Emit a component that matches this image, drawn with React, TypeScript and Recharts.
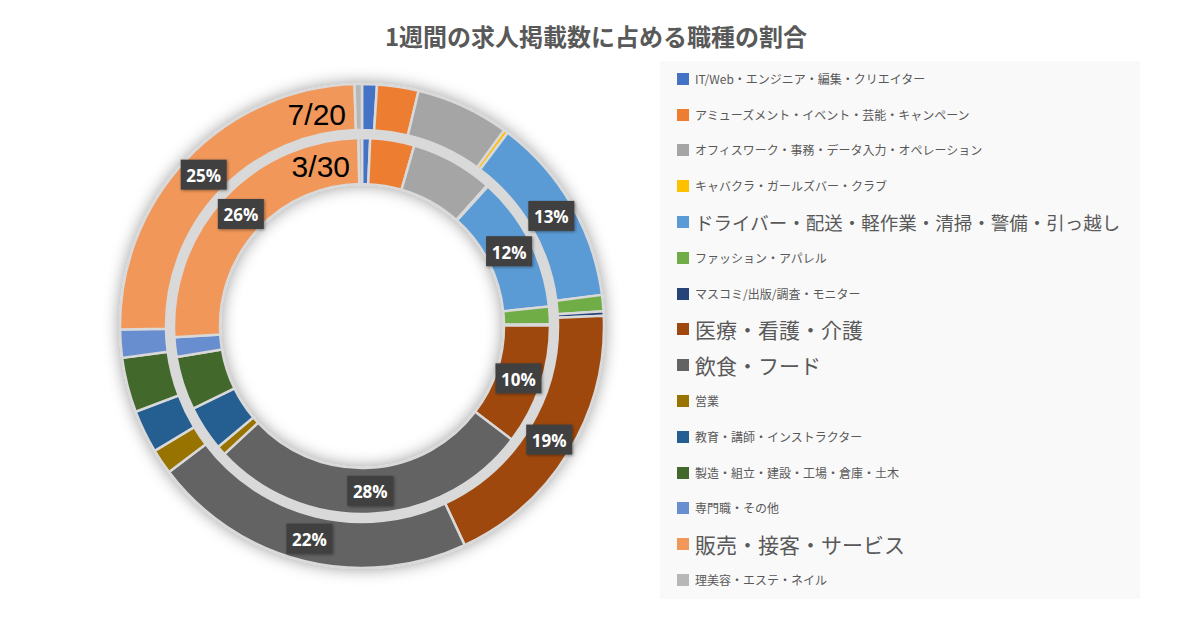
import { PieChart, Pie, Cell, Legend } from 'recharts';

const categories = [
  'IT/Web・エンジニア・編集・クリエイター',
  'アミューズメント・イベント・芸能・キャンペーン',
  'オフィスワーク・事務・データ入力・オペレーション',
  'キャバクラ・ガールズバー・クラブ',
  'ドライバー・配送・軽作業・清掃・警備・引っ越し',
  'ファッション・アパレル',
  'マスコミ/出版/調査・モニター',
  '医療・看護・介護',
  '飲食・フード',
  '営業',
  '教育・講師・インストラクター',
  '製造・組立・建設・工場・倉庫・土木',
  '専門職・その他',
  '販売・接客・サービス',
  '理美容・エステ・ネイル',
];

const colors = [
  '#4472C4', '#ED7D31', '#A5A5A5', '#FFC000', '#5B9BD5',
  '#70AD47', '#264478', '#9E480E', '#636363', '#997300',
  '#255E91', '#43682B', '#698ED0', '#F1975A', '#B7B7B7',
];

// outer ring (7/20), inner ring (3/30) — shares in %
const week0720 = [1.0, 2.8, 6.3, 0.3, 12.8, 1.1, 0.3, 18.9, 21.9, 1.7, 2.9, 3.7, 1.9, 25.0, 0.5];
const week0330 = [0.7, 3.8, 7.1, 0.1, 11.7, 1.5, 0.1, 10.4, 27.8, 0.8, 3.9, 4.6, 1.7, 25.7, 0.3];

const seriesNames = ['7/20', '3/30'];

// font size of each legend entry
const legendSizes = [12, 12, 12, 12, 18.5, 12, 12, 21, 21, 12, 12, 12, 12, 21, 12];

const outerData = categories.map((name, i) => ({ name, value: week0720[i] }));
const innerData = categories.map((name, i) => ({ name, value: week0330[i] }));
const ringBg = [{ name: 'bg', value: 1 }];

const CX = 362;
const CY = 326;
const RADIAN = Math.PI / 180;

const renderPercent = (props: any) => {
  const { cx, cy, midAngle, innerRadius, outerRadius, percent } = props;
  if (percent < 0.095) return null;
  const r = (innerRadius + outerRadius) / 2;
  const x = cx + r * Math.cos(-midAngle * RADIAN);
  const y = cy + r * Math.sin(-midAngle * RADIAN);
  return (
    <g>
      <rect x={x - 23} y={y - 15} width={46} height={30} fill="#404040" filter="url(#labelShadow)" />
      <text
        x={x}
        y={y + 1}
        fill="#ffffff"
        textAnchor="middle"
        dominantBaseline="central"
        fontSize={17}
        fontWeight={700}
        fontFamily="'Open Sans', 'Noto Sans', sans-serif"
      >
        {`${Math.round(percent * 100)}%`}
      </text>
    </g>
  );
};

const LegendBox = () => (
  <div
    style={{
      width: 480,
      height: 538,
      background: '#f9f9f9',
      boxSizing: 'border-box',
      paddingTop: 0,
      fontFamily: "'Noto Sans CJK JP', sans-serif",
      color: '#595959',
    }}
  >
    {categories.map((name, i) => (
      <div key={name} style={{ height: 35.8, display: 'flex', alignItems: 'center', paddingLeft: 17 }}>
        <span style={{ width: 12, height: 12, background: colors[i], marginRight: 6, flexShrink: 0 }} />
        <span style={{ fontSize: legendSizes[i], whiteSpace: 'nowrap', lineHeight: 1 }}>{name}</span>
      </div>
    ))}
  </div>
);

export default function App() {
  return (
    <div
      style={{
        position: 'relative',
        width: 1200,
        height: 641,
        margin: -8,
        border: '2px solid #c8c8c8',
        boxSizing: 'border-box',
        background: '#ffffff',
        overflow: 'hidden',
      }}
    >
      <div
        style={{
          position: 'absolute',
          left: 0,
          top: 18,
          width: 1188,
          textAlign: 'center',
          fontFamily: "'Noto Sans CJK JP', sans-serif",
          fontWeight: 700,
          fontSize: 24,
          color: '#595959',
          lineHeight: '32px',
        }}
      >
        1週間の求人掲載数に占める職種の割合
      </div>
      <div style={{ position: 'absolute', left: -2, top: -2 }}>
        <PieChart width={1200} height={641} margin={{ top: 0, right: 0, bottom: 0, left: 0 }}>
          <defs>
            <filter id="ringShadow" x="-20%" y="-20%" width="140%" height="140%">
              <feDropShadow dx="0" dy="0" stdDeviation="8" floodColor="#000" floodOpacity="0.4" />
            </filter>
            <filter id="labelShadow" x="-30%" y="-30%" width="160%" height="160%">
              <feDropShadow dx="1" dy="1" stdDeviation="1.5" floodColor="#000" floodOpacity="0.4" />
            </filter>
          </defs>
          <Pie
            data={ringBg}
            dataKey="value"
            cx={CX}
            cy={CY}
            innerRadius={141}
            outerRadius={243}
            startAngle={90}
            endAngle={-270}
            stroke="none"
            legendType="none"
            isAnimationActive={false}
          >
            <Cell fill="#d9d9d9" filter="url(#ringShadow)" />
          </Pie>
          <Pie
            data={outerData}
            dataKey="value"
            nameKey="name"
            cx={CX}
            cy={CY}
            innerRadius={196}
            outerRadius={242}
            startAngle={90}
            endAngle={-270}
            stroke="#d9d9d9"
            strokeWidth={2.5}
            label={renderPercent}
            labelLine={false}
            isAnimationActive={false}
          >
            {outerData.map((d, i) => (
              <Cell key={d.name} fill={colors[i]} />
            ))}
          </Pie>
          <Pie
            data={innerData}
            dataKey="value"
            nameKey="name"
            cx={CX}
            cy={CY}
            innerRadius={142}
            outerRadius={188}
            startAngle={90}
            endAngle={-270}
            stroke="#d9d9d9"
            strokeWidth={2.5}
            label={renderPercent}
            labelLine={false}
            isAnimationActive={false}
          >
            {innerData.map((d, i) => (
              <Cell key={d.name} fill={colors[i]} />
            ))}
          </Pie>
          <Legend
            content={() => <LegendBox />}
            wrapperStyle={{ position: 'absolute', left: 660, top: 61, width: 480, height: 540 }}
          />
        </PieChart>
      </div>
      {seriesNames.map((s, i) => (
        <div
          key={s}
          style={{
            position: 'absolute',
            right: 1200 - 350 - (i === 0 ? -2 : 2),
            top: i === 0 ? 93 : 145,
            fontFamily: "'Liberation Sans', 'Open Sans', sans-serif",
            fontSize: 30,
            color: '#000000',
            lineHeight: '40px',
          }}
        >
          {s}
        </div>
      ))}
    </div>
  );
}
